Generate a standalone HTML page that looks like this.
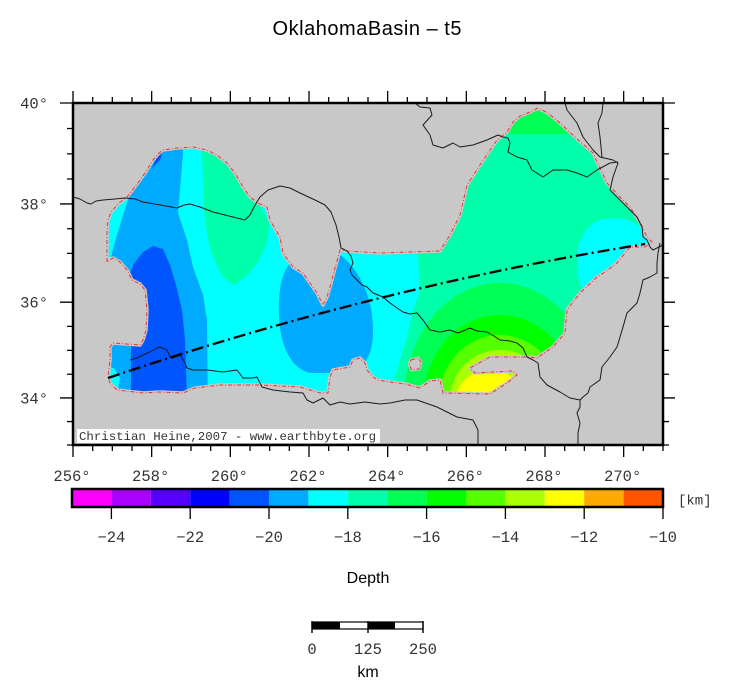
<!DOCTYPE html>
<html><head><meta charset="utf-8"><style>
html,body{margin:0;padding:0;background:#fff;}
svg{display:block;}
.mono{font-family:"Liberation Mono","DejaVu Sans Mono",monospace;fill:#333;}
.sans{font-family:"Liberation Sans","DejaVu Sans",sans-serif;fill:#000;}
</style></head><body>
<svg width="731" height="699" viewBox="0 0 731 699" xmlns="http://www.w3.org/2000/svg">
<defs>
<clipPath id="frame"><rect x="73" y="103" width="590" height="342"/></clipPath>
<clipPath id="data"><polygon points="107,262 107,232 108,220 111,212 119,203 127,197 134,188 140,180 147,170 153,160 158,154 163,150 170,149 177,148 193,147 207,150 217,155 227,163 235,173 243,187 250,197 258,203 267,207 270,220 280,237 283,253 293,267 303,273 310,283 317,293 323,305 327,297 330,287 335,268 340,250 347,251 380,253 440,251 450,235 460,215 467,185 480,165 497,140 507,132 513,122 520,116 530,112 538,108 548,113 560,123 575,137 593,153 600,168 607,183 618,195 630,207 640,222 647,237 652,242 645,247 630,247 617,263 605,272 597,277 580,293 567,310 565,333 553,347 537,358 527,357 490,357 470,368 475,373 513,371 517,375 507,383 490,394 443,393 440,380 430,381 420,388 405,384 390,382 378,380 373,377 367,370 365,363 360,358 353,360 350,367 333,370 330,377 328,393 320,393 300,387 260,385 220,385 195,388 183,393 160,392 143,393 117,390 110,383 108,377 110,360 110,347 113,343 140,345 143,340 146,330 147,310 145,290 140,284 132,280 127,270 120,262 113,258"/></clipPath>
</defs>

<!-- map background -->
<rect x="73" y="103" width="590" height="342" fill="#c8c8c8"/>

<!-- data fill -->
<g clip-path="url(#data)">
  <rect x="60" y="90" width="620" height="370" fill="#00ffaa"/>
  <polygon fill="#00ffff" points="60,90 418,90 418,255 420,293 413,310 407,337 400,360 393,385 390,420 60,420"/>
  <polygon fill="#00aaff" points="60,90 183,90 183,153 180,190 178,213 187,240 193,267 203,295 207,320 208,420 60,420"/>
  <polygon fill="#00ffaa" points="201,140 215,150 235,170 255,195 270,225 266,245 258,262 245,278 233,285 222,276 212,255 207,235 204,210 203,175"/>
  <polygon fill="#00ffff" points="100,190 130,190 128,200 121,222 114,245 110,262 100,266"/>
  <polygon fill="#0055ff" points="153,246 163,249 170,265 176,285 182,310 185,340 187,400 131,400 131,345 128,280 133,265 143,252"/>
  <polygon fill="#0055ff" points="152,168 157,157 163,151 160,160"/>
  <polygon fill="#00ffff" points="105,366 114,368 120,378 118,390 105,390"/>
  <path fill="#00aaff" d="M293,260 C310,250 335,250 343,257 C355,268 372,290 373,327 C374,355 365,372 340,373 L310,373 C290,368 280,345 279,315 C278,290 282,270 293,260 Z"/>
  <path fill="#00ffff" d="M585,300 L578,277 L577,257 C578,240 585,228 595,222 C605,217 625,217 635,223 L660,245 L660,300 Z"/>
  <polygon fill="#00ff55" points="500,134 570,134 570,95 500,95"/>
  <ellipse cx="500" cy="400" rx="96" ry="117" fill="#00ff55"/>
  <ellipse cx="500" cy="400" rx="76" ry="85" fill="#00ff00"/>
  <ellipse cx="500" cy="400" rx="61" ry="65" fill="#55ff00"/>
  <ellipse cx="500" cy="400" rx="50" ry="50" fill="#aaff00"/>
  <ellipse cx="490" cy="400" rx="34" ry="30" fill="#ffff00"/>
  <polygon fill="#c8c8c8" points="411,360 418,358 421,362 419,369 412,370 409,365"/>
</g>

<!-- data outline -->
<g fill="none">
  <polygon points="107,262 107,232 108,220 111,212 119,203 127,197 134,188 140,180 147,170 153,160 158,154 163,150 170,149 177,148 193,147 207,150 217,155 227,163 235,173 243,187 250,197 258,203 267,207 270,220 280,237 283,253 293,267 303,273 310,283 317,293 323,305 327,297 330,287 335,268 340,250 347,251 380,253 440,251 450,235 460,215 467,185 480,165 497,140 507,132 513,122 520,116 530,112 538,108 548,113 560,123 575,137 593,153 600,168 607,183 618,195 630,207 640,222 647,237 652,242 645,247 630,247 617,263 605,272 597,277 580,293 567,310 565,333 553,347 537,358 527,357 490,357 470,368 475,373 513,371 517,375 507,383 490,394 443,393 440,380 430,381 420,388 405,384 390,382 378,380 373,377 367,370 365,363 360,358 353,360 350,367 333,370 330,377 328,393 320,393 300,387 260,385 220,385 195,388 183,393 160,392 143,393 117,390 110,383 108,377 110,360 110,347 113,343 140,345 143,340 146,330 147,310 145,290 140,284 132,280 127,270 120,262 113,258" stroke="#cdc6c6" stroke-width="3.5" stroke-linejoin="round"/>
  <polygon points="411,360 418,358 421,362 419,369 412,370 409,365" stroke="#cdc6c6" stroke-width="3"/>
  <polygon points="107,262 107,232 108,220 111,212 119,203 127,197 134,188 140,180 147,170 153,160 158,154 163,150 170,149 177,148 193,147 207,150 217,155 227,163 235,173 243,187 250,197 258,203 267,207 270,220 280,237 283,253 293,267 303,273 310,283 317,293 323,305 327,297 330,287 335,268 340,250 347,251 380,253 440,251 450,235 460,215 467,185 480,165 497,140 507,132 513,122 520,116 530,112 538,108 548,113 560,123 575,137 593,153 600,168 607,183 618,195 630,207 640,222 647,237 652,242 645,247 630,247 617,263 605,272 597,277 580,293 567,310 565,333 553,347 537,358 527,357 490,357 470,368 475,373 513,371 517,375 507,383 490,394 443,393 440,380 430,381 420,388 405,384 390,382 378,380 373,377 367,370 365,363 360,358 353,360 350,367 333,370 330,377 328,393 320,393 300,387 260,385 220,385 195,388 183,393 160,392 143,393 117,390 110,383 108,377 110,360 110,347 113,343 140,345 143,340 146,330 147,310 145,290 140,284 132,280 127,270 120,262 113,258" stroke="#e53535" stroke-width="1" stroke-dasharray="4,2,1,2"/>
  <polygon points="411,360 418,358 421,362 419,369 412,370 409,365" stroke="#e53535" stroke-width="1" stroke-dasharray="4,2,1,2"/>
</g>

<!-- political borders -->
<g clip-path="url(#frame)" fill="none" stroke="#1a1a1a" stroke-width="1" stroke-linejoin="round">
  <path d="M73,197 L80,199 L87,203 L91,204 L96,201 L103,200 L115,199 L125,198 L135,199 L143,202 L160,205 L177,208 L184,205 L190,204 L200,207 L213,212 L233,217 L245,220 L250,215 L254,207 L260,197 L268,190 L280,186 L290,188 L300,193 L315,200 L325,205 L331,212 L336,225 L339,237 L341,248 L347,251 L351,256 L353,263 L350,270 L352,275 L357,280 L362,285 L367,287 L373,293 L383,297 L390,303 L397,308 L403,312 L410,314 L417,313 L423,320 L430,330 L440,332 L450,330 L458,333 L463,331 L470,328 L477,331 L487,332 L494,336 L500,340 L510,341 L517,343 L523,348 L527,357 L533,360 L538,363 L540,377 L547,385 L560,392 L570,398 L580,400 L580,407 L577,413 L580,423 L578,433 L578,445"/>
  <path d="M130,360 L137,358 L143,355 L150,352 L157,348 L160,347 L167,350 L170,357 L173,358 L180,355 L185,363 L187,368 L193,370 L207,370 L215,371 L223,372 L237,370 L243,378 L253,378 L257,377 L262,387 L273,390 L290,392 L303,393 L307,400 L313,403 L323,398 L330,405 L340,402 L350,404 L365,402 L380,404 L390,403 L405,400 L417,400 L437,407 L457,417 L473,420 L478,430 L478,445"/>
  <path d="M415,103 L420,107 L430,108 L432,115 L423,125 L430,135 L433,145 L443,148 L453,143 L460,147 L473,145 L487,140 L498,135 L503,137 L508,138 L510,143 L508,152 L517,157 L527,160 L532,170 L543,177 L553,170 L567,170 L577,173 L587,177 L597,170 L610,163 L618,162"/>
  <path d="M565,103 L567,110 L577,123 L583,137 L593,150 L600,157 L613,160 L618,163 L613,177 L610,190 L623,203 L637,217 L642,227 L643,237 L647,240 L650,247 L653,250 L663,245"/>
  <path d="M603,103 L602,113 L598,123 L600,137 L602,157"/>
  <path d="M660,243 L658,253 L657,263 L657,273 L650,277 L643,280 L640,293 L637,303 L627,313 L623,327 L617,347 L610,357 L602,367 L600,380 L590,387 L588,393 L583,397 L580,400"/>
</g>

<!-- section line -->
<path d="M108,378 Q376,287 645,244" fill="none" stroke="#000" stroke-width="2.3" stroke-dasharray="12,4,2,4"/>

<!-- copyright -->
<rect x="77" y="429" width="303" height="14" fill="#fff"/>
<text x="79" y="440" class="mono" font-size="12.4" textLength="297">Christian Heine,2007 - www.earthbyte.org</text>

<!-- frame -->
<rect x="73" y="103" width="590" height="342" fill="none" stroke="#000" stroke-width="2.5"/>

<!-- ticks -->
<g stroke="#000" stroke-width="1.3" fill="none">
  <path d="M73,103V91 M151.67,103V91 M230.33,103V91 M309,103V91 M387.67,103V91 M466.33,103V91 M545,103V91 M623.67,103V91"/>
  <path d="M92.67,103V97 M112.33,103V97 M132,103V97 M171.33,103V97 M191,103V97 M210.67,103V97 M250,103V97 M269.67,103V97 M289.33,103V97 M328.67,103V97 M348.33,103V97 M368,103V97 M407.33,103V97 M427,103V97 M446.67,103V97 M486,103V97 M505.67,103V97 M525.33,103V97 M564.67,103V97 M584.33,103V97 M604,103V97 M643.33,103V97 M663,103V97"/>
  <path d="M73,445V457 M151.67,445V457 M230.33,445V457 M309,445V457 M387.67,445V457 M466.33,445V457 M545,445V457 M623.67,445V457"/>
  <path d="M92.67,445V451 M112.33,445V451 M132,445V451 M171.33,445V451 M191,445V451 M210.67,445V451 M250,445V451 M269.67,445V451 M289.33,445V451 M328.67,445V451 M348.33,445V451 M368,445V451 M407.33,445V451 M427,445V451 M446.67,445V451 M486,445V451 M505.67,445V451 M525.33,445V451 M564.67,445V451 M584.33,445V451 M604,445V451 M643.33,445V451 M663,445V451"/>
  <path d="M73,103H60 M73,203.95H60 M73,302.2H60 M73,397.96H60"/>
  <path d="M73,128.51H67 M73,153.84H67 M73,178.99H67 M73,228.75H67 M73,253.39H67 M73,277.87H67 M73,326.36H67 M73,350.37H67 M73,374.24H67 M73,421.55H67 M73,445H67"/>
  <path d="M663,103H675 M663,203.95H675 M663,302.2H675 M663,397.96H675"/>
  <path d="M663,128.51H669 M663,153.84H669 M663,178.99H669 M663,228.75H669 M663,253.39H669 M663,277.87H669 M663,326.36H669 M663,350.37H669 M663,374.24H669 M663,421.55H669 M663,445H669"/>
</g>

<!-- axis labels -->
<g class="mono" font-size="15.5" text-anchor="middle">
  <text x="72" y="481">256°</text>
  <text x="150.67" y="481">258°</text>
  <text x="229.33" y="481">260°</text>
  <text x="308" y="481">262°</text>
  <text x="386.67" y="481">264°</text>
  <text x="465.33" y="481">266°</text>
  <text x="544" y="481">268°</text>
  <text x="622.67" y="481">270°</text>
</g>
<g class="mono" font-size="15.5" text-anchor="end">
  <text x="48" y="108.5">40°</text>
  <text x="48" y="209.5">38°</text>
  <text x="48" y="307.7">36°</text>
  <text x="48" y="403.5">34°</text>
</g>

<!-- title -->
<text x="367" y="35" class="sans" font-size="20" text-anchor="middle" textLength="189">OklahomaBasin – t5</text>

<!-- colorbar -->
<g>
  <rect x="72" y="489" width="39.4" height="18" fill="#ff00ff"/>
  <rect x="111.4" y="489" width="39.4" height="18" fill="#aa00ff"/>
  <rect x="150.8" y="489" width="39.4" height="18" fill="#5500ff"/>
  <rect x="190.2" y="489" width="39.4" height="18" fill="#0000ff"/>
  <rect x="229.6" y="489" width="39.4" height="18" fill="#0055ff"/>
  <rect x="269" y="489" width="39.4" height="18" fill="#00aaff"/>
  <rect x="308.4" y="489" width="39.4" height="18" fill="#00ffff"/>
  <rect x="347.8" y="489" width="39.4" height="18" fill="#00ffaa"/>
  <rect x="387.2" y="489" width="39.4" height="18" fill="#00ff55"/>
  <rect x="426.6" y="489" width="39.4" height="18" fill="#00ff00"/>
  <rect x="466" y="489" width="39.4" height="18" fill="#55ff00"/>
  <rect x="505.4" y="489" width="39.4" height="18" fill="#aaff00"/>
  <rect x="544.8" y="489" width="39.4" height="18" fill="#ffff00"/>
  <rect x="584.2" y="489" width="39.4" height="18" fill="#ffaa00"/>
  <rect x="623.6" y="489" width="39.4" height="18" fill="#ff5500"/>
  <rect x="72" y="489" width="591" height="18" fill="none" stroke="#000" stroke-width="2.5"/>
  <path d="M111.4,507V519 M190.2,507V519 M269,507V519 M347.8,507V519 M426.6,507V519 M505.4,507V519 M584.2,507V519 M663,507V519" stroke="#000" stroke-width="1.3"/>
</g>
<g class="mono" font-size="15.5" text-anchor="middle">
  <text x="111.4" y="542">−24</text>
  <text x="190.2" y="542">−22</text>
  <text x="269" y="542">−20</text>
  <text x="347.8" y="542">−18</text>
  <text x="426.6" y="542">−16</text>
  <text x="505.4" y="542">−14</text>
  <text x="584.2" y="542">−12</text>
  <text x="663" y="542">−10</text>
</g>
<text x="678" y="504.5" class="mono" font-size="14">[km]</text>

<text x="368" y="583" class="sans" font-size="16" text-anchor="middle">Depth</text>

<!-- scale bar -->
<g>
  <rect x="312" y="622" width="28" height="7" fill="#000"/>
  <rect x="340" y="622" width="28" height="7" fill="#fff"/>
  <rect x="368" y="622" width="27" height="7" fill="#000"/>
  <rect x="395" y="622" width="28" height="7" fill="#fff"/>
  <rect x="312" y="622" width="111" height="7" fill="none" stroke="#000" stroke-width="1.2"/>
  <path d="M312,621V633 M368,621V633 M423,621V633" stroke="#000" stroke-width="1.4"/>
</g>
<g class="mono" font-size="15.5" text-anchor="middle">
  <text x="312" y="654">0</text>
  <text x="368" y="654">125</text>
  <text x="423" y="654">250</text>
</g>
<text x="368" y="677" class="sans" font-size="16" text-anchor="middle">km</text>
</svg>
</body></html>
